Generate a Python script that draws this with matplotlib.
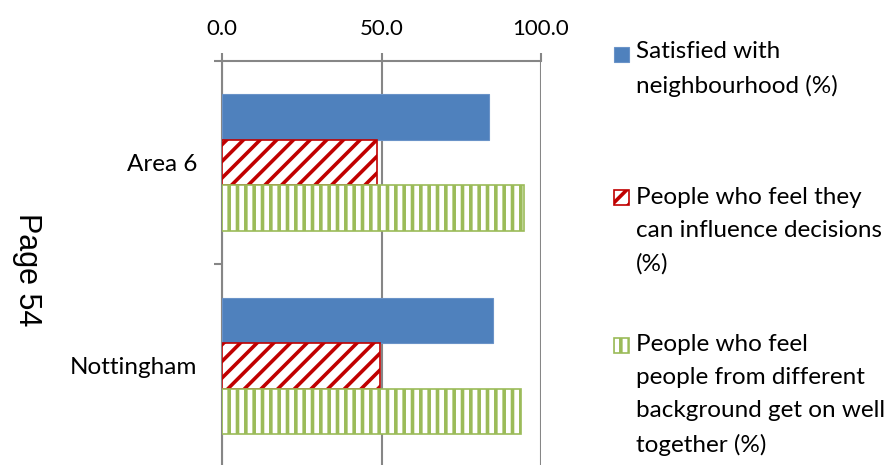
import matplotlib
matplotlib.use("Agg")
import matplotlib.pyplot as plt
import numpy as np
from matplotlib.patches import Rectangle

# data
areas = ["Area 6", "Nottingham"]
satisfied = [83.7, 85.0]
influence = [48.6, 49.5]
get_on = [94.7, 93.7]
series_labels = [
    "Satisfied with\nneighbourhood (%)",
    "People who feel they\ncan influence decisions\n(%)",
    "People who feel\npeople from different\nbackground get on well\ntogether (%)",
]
x_ticks = [0, 50, 100]
x_tick_labels = ["0.0", "50.0", "100.0"]

W, H = 892, 465
GREY = "#868686"
BLUE = "#4F81BD"
RED = "#C00000"
GREEN = "#9BBB59"
FONT = "Lato"

plt.rcParams["hatch.linewidth"] = 2.6

fig = plt.figure(figsize=(W / 100, H / 100), dpi=100)
ax = fig.add_axes([222 / W, -2.5 / H, (541 - 222) / W, (467.5 - 61) / H])


def fx(px):
    return px / W


def fy(py):
    return 1 - py / H


y = np.arange(len(areas))
bh = 0.224
styles = [
    dict(facecolor=BLUE, edgecolor="#6A93C8", linewidth=0.8),
    dict(facecolor="white", edgecolor=RED, hatch="//", linewidth=1.2),
    dict(facecolor="white", edgecolor=GREEN, hatch="||", linewidth=1.2),
]
for i, (vals, st) in enumerate(zip([satisfied, influence, get_on], styles)):
    ax.barh(y + (i - 1) * bh, vals, height=bh, zorder=3, **st)

ax.set_xlim(0, 100)
ax.set_ylim(1.5, -0.5)

# x axis on top
ax.xaxis.tick_top()
ax.set_xticks(x_ticks)
ax.set_xticklabels(x_tick_labels, fontsize=16, fontfamily=FONT)
ax.tick_params(axis="x", length=6, width=1.5, color=GREY, pad=10, direction="out")
ax.grid(axis="x", color=GREY, linewidth=1.5, zorder=0)

# category ticks between groups, labels at the centres
ax.set_yticks([-0.5, 0.5, 1.5])
ax.set_yticklabels([])
ax.tick_params(axis="y", which="major", length=6, width=1.5, color=GREY)
ax.set_yticks(y, minor=True)
ax.set_yticklabels(areas, minor=True, fontsize=17.5, fontfamily=FONT)
ax.tick_params(axis="y", which="minor", length=0, pad=18)

for s in ["right", "bottom"]:
    ax.spines[s].set_visible(False)
for s in ["left", "top"]:
    ax.spines[s].set_color(GREY)
    ax.spines[s].set_linewidth(1.5)

# legend, Excel style: marker next to the first line of each label
first_base = [60, 205, 353]
line_gap = 33
marker_cy = [54, 197.5, 345]
for lab, st, by, my in zip(series_labels, styles, first_base, marker_cy):
    fig.patches.append(
        Rectangle((fx(614), fy(my + 7.5)), 15 / W, 15 / H,
                  transform=fig.transFigure, figure=fig, **st)
    )
    # multiline 'baseline' alignment anchors the last line
    last_base = by + lab.count("\n") * line_gap
    fig.text(fx(636), fy(last_base), lab, fontsize=17.5, fontfamily=FONT,
             va="baseline", ha="left", linespacing=1.7)

fig.text(fx(27), fy(270), "Page 54", fontsize=22, fontfamily="Liberation Sans",
         rotation=-90, ha="center", va="center")

fig.savefig("out.png", dpi=100)
